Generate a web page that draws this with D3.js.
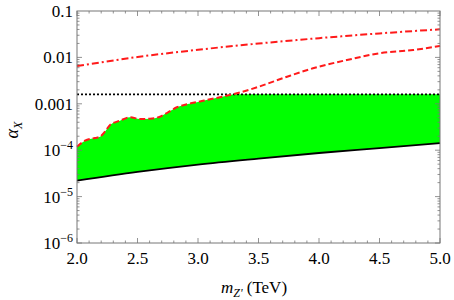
<!DOCTYPE html>
<html>
<head>
<meta charset="utf-8">
<script src="https://cdn.jsdelivr.net/npm/d3@7"></script>
<style>
body { margin: 0; background: #fff; }
text { font-family: "Liberation Serif", "Times New Roman", serif; }
</style>
</head>
<body>
<div id="chart"></div>
<script>
var width = 454,
    height = 300;
var margin = {top: 11, right: 14, bottom: 57, left: 77};

// data
var bandX = [2.0, 2.066, 2.149, 2.19, 2.231, 2.273, 2.355, 2.438, 2.521, 2.603, 2.686, 2.752, 2.826, 2.917, 3.0, 3.099, 3.2, 3.289, 3.488, 3.736, 3.95, 4.231, 4.504, 4.777, 5.0];
var bandY = [1.19e-4, 1.6e-4, 1.83e-4, 1.95e-4, 2.51e-4, 3.49e-4, 4.32e-4, 5.12e-4, 4.7e-4, 4.77e-4, 5.27e-4, 6.56e-4, 8.41e-4, 9.9e-4, 1.1e-3, 1.25e-3, 1.42e-3, 1.6e-3, 2.27e-3, 3.84e-3, 5.82e-3, 8.79e-3, 1.23e-2, 1.44e-2, 1.76e-2];
var lineX = [2.0, 2.5, 3.0, 3.5, 4.0, 4.5, 5.0];
var dotDashY = [0.0065, 0.0102, 0.0146, 0.0199, 0.026, 0.0329, 0.0403];
var lowerY = [2.2e-5, 3.4e-5, 4.9e-5, 6.6e-5, 8.7e-5, 1.11e-4, 1.42e-4];
var flatY = 1.6e-3;
var xTicks = [2.0, 2.5, 3.0, 3.5, 4.0, 4.5, 5.0];
var yTicks = [1e-1, 1e-2, 1e-3, 1e-4, 1e-5, 1e-6];
var yTickLabels = ["0.1", "0.01", "0.001", "10|\u22124", "10|\u22125", "10|\u22126"];

var svg = d3.select("#chart").append("svg")
    .attr("width", width)
    .attr("height", height);

var x = d3.scaleLinear().domain([2, 5]).range([margin.left, width - margin.right]);
var y = d3.scaleLog().domain([1e-6, 0.1]).range([height - margin.bottom, margin.top]);

var band = bandX.map(function(d, i) { return [d, bandY[i]]; });
var dotDash = lineX.map(function(d, i) { return [d, dotDashY[i]]; });
var lower = lineX.map(function(d, i) { return [d, lowerY[i]]; });

var line = d3.line()
    .x(function(d) { return x(d[0]); })
    .y(function(d) { return y(d[1]); })
    .curve(d3.curveMonotoneX);

// clip: everything below the red dashed curve
svg.append("clipPath")
    .attr("id", "belowBand")
    .append("path")
    .attr("d", d3.area()
        .x(function(d) { return x(d[0]); })
        .y0(y(1e-6))
        .y1(function(d) { return y(d[1]); })
        .curve(d3.curveMonotoneX)(band));

svg.append("path")
    .attr("clip-path", "url(#belowBand)")
    .attr("fill", "#00ff00")
    .attr("d", d3.area()
        .x(function(d) { return x(d[0]); })
        .y0(function(d) { return y(d[1]); })
        .y1(y(flatY))
        .curve(d3.curveMonotoneX)(lower));

svg.append("path")
    .attr("d", line(lower))
    .attr("fill", "none")
    .attr("stroke", "black")
    .attr("stroke-width", 1.8);

svg.append("line")
    .attr("x1", x(2)).attr("x2", x(5))
    .attr("y1", y(flatY)).attr("y2", y(flatY))
    .attr("stroke", "black")
    .attr("stroke-width", 1.8)
    .attr("stroke-dasharray", "2,2");

svg.append("path")
    .attr("d", line(band))
    .attr("fill", "none")
    .attr("stroke", "#ff1a1a")
    .attr("stroke-width", 2)
    .attr("stroke-dasharray", "6,3");

svg.append("path")
    .attr("d", line(dotDash))
    .attr("fill", "none")
    .attr("stroke", "#ff1a1a")
    .attr("stroke-width", 2)
    .attr("stroke-dasharray", "7,3,2,3");

// frame with ticks on every side
var frameColor = "#777";
var x0 = margin.left, x1 = width - margin.right,
    y0 = margin.top, y1 = height - margin.bottom;

svg.append("rect")
    .attr("x", x0).attr("y", y0)
    .attr("width", x1 - x0).attr("height", y1 - y0)
    .attr("fill", "none")
    .attr("stroke", frameColor)
    .attr("stroke-width", 1);

var ticks = svg.append("g").attr("stroke", frameColor).attr("stroke-width", 0.8);

d3.range(20, 51).forEach(function(t) {
    var v = t / 10, len = (t % 5 === 0) ? 5 : 2.5, px = x(v);
    ticks.append("line").attr("x1", px).attr("x2", px).attr("y1", y1).attr("y2", y1 - len);
    ticks.append("line").attr("x1", px).attr("x2", px).attr("y1", y0).attr("y2", y0 + len);
});

d3.range(-6, -1).forEach(function(e) {
    d3.range(1, 10).forEach(function(m) {
        var v = m * Math.pow(10, e), len = (m === 1) ? 5 : 2.5, py = y(v);
        ticks.append("line").attr("x1", x0).attr("x2", x0 + len).attr("y1", py).attr("y2", py);
        ticks.append("line").attr("x1", x1).attr("x2", x1 - len).attr("y1", py).attr("y2", py);
    });
});

// tick labels
svg.selectAll(".xlab")
    .data(xTicks)
    .enter()
    .append("text")
    .attr("class", "xlab")
    .attr("x", function(d) { return x(d); })
    .attr("y", y1 + 21)
    .attr("text-anchor", "middle")
    .style("font-size", "17px")
    .text(function(d) { return d.toFixed(1); });

yTicks.forEach(function(v, i) {
    var parts = yTickLabels[i].split("|");
    var t = svg.append("text")
        .attr("x", x0 - 4)
        .attr("y", y(v) + 6)
        .attr("text-anchor", "end")
        .style("font-size", "17px");
    if (parts.length === 1) {
        t.text(parts[0]);
    } else {
        t.append("tspan").text(parts[0]);
        t.append("tspan").attr("dy", -7).style("font-size", "12px").text(parts[1]);
    }
});

// axis titles
var xt = svg.append("text")
    .attr("x", 254)
    .attr("y", 293)
    .attr("text-anchor", "middle")
    .style("font-size", "17px");
xt.append("tspan").style("font-style", "italic").text("m");
xt.append("tspan").attr("dy", 4).style("font-size", "12px").style("font-style", "italic").text("Z'");
xt.append("tspan").attr("dy", -4).text(" (TeV)");

var yt = svg.append("text")
    .attr("transform", "translate(18," + 130 + ") rotate(-90)")
    .attr("text-anchor", "middle")
    .style("font-size", "18px");
yt.append("tspan").style("font-style", "italic").text("\u03b1");
yt.append("tspan").attr("dy", 4).style("font-size", "12px").style("font-style", "italic").text("X");
</script>
</body>
</html>
